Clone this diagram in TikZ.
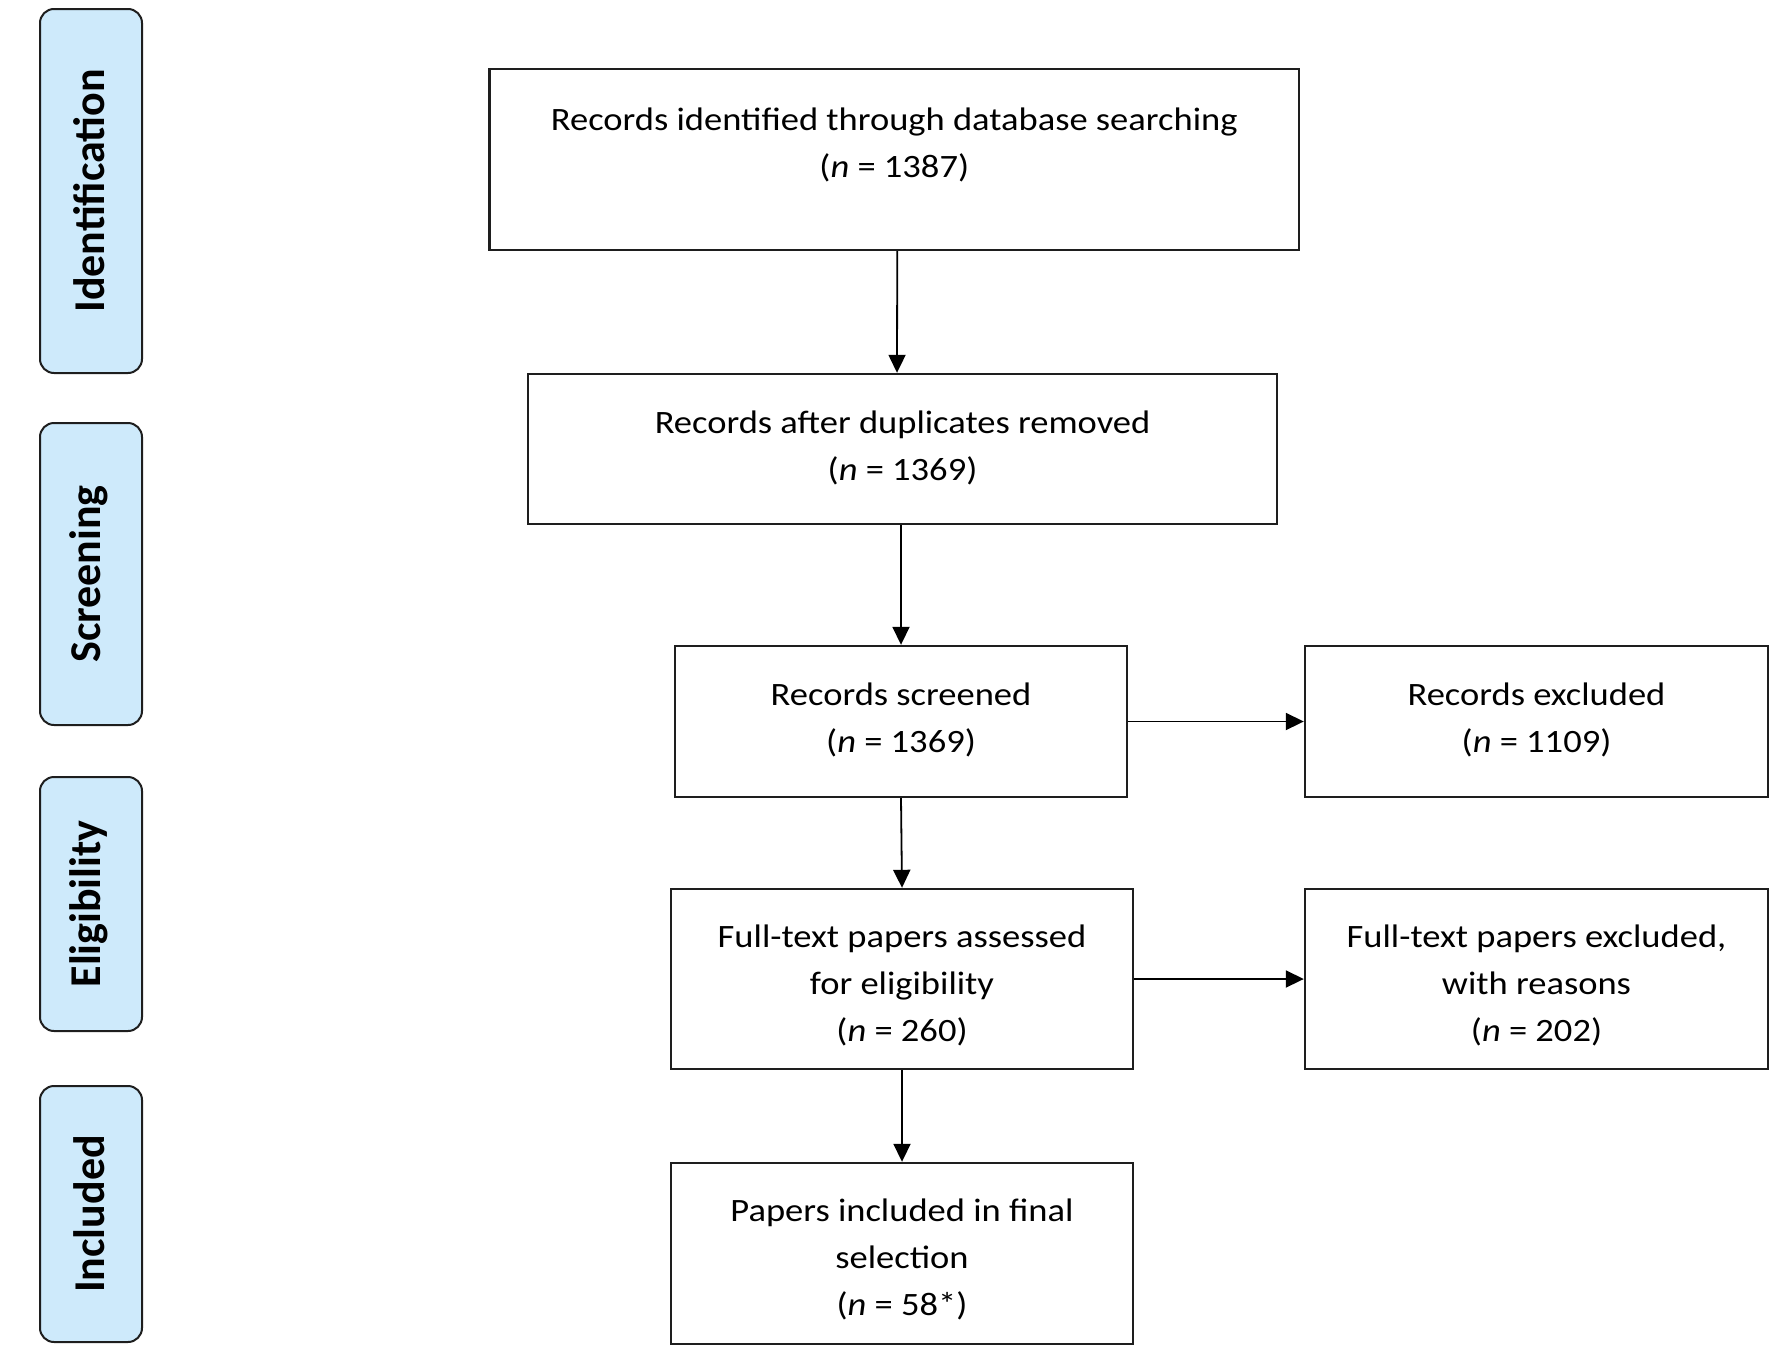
\documentclass[tikz,border=0pt]{standalone}
\usepackage{fontspec}
\setmainfont{Carlito}
\newfontfamily\wideface{Carlito}[FakeStretch=1.12]
\usetikzlibrary{arrows.meta,calc}
\definecolor{phasefill}{RGB}{206,234,251}
\definecolor{edge}{RGB}{30,30,30}
\tikzset{
  flowbox/.style={draw=edge, line width=1.2pt, rectangle, inner sep=0pt},
  flowtext/.style={align=center, font=\wideface\fontsize{16.3}{23.5}\selectfont, inner sep=0pt},
  phase/.style={draw=edge, line width=1pt, fill=phasefill, rounded corners=7pt, inner sep=0pt,
    minimum width=51pt},
  phasetext/.style={rotate=90, font=\fontsize{22}{26}\selectfont\bfseries, inner sep=0pt},
  flow/.style={line width=0.9pt, draw=black, -{Triangle[length=9pt,width=8.5pt]}}
}
\begin{document}
\begin{tikzpicture}[x=0.5pt,y=-0.5pt]
\useasboundingbox (0,0) rectangle (1783,1355);

% phase labels
\node[phase, minimum height=182pt] (pid) at (91,191) {};
\node[phasetext] (tid) at ($(pid.center)+(-2,0)$) {Identification};
\node[phase, minimum height=151pt] (psc) at (91,574) {};
\node[phasetext] (tsc) at ($(psc.center)+(-2,0)$) {Screening};
\node[phase, minimum height=127pt] (pel) at (91,904) {};
\node[phasetext] (tel) at ($(pel.center)+(-2,0)$) {Eligibility};
\node[phase, minimum height=128pt] (pin) at (91,1214) {};
\node[phasetext] (tin) at ($(pin.center)+(-2,0)$) {Included};

% boxes
\node[flowbox, minimum width=404.75pt, minimum height=90.5pt] (b1) at (894.25,159.5) {};
\node[flowtext] (t1) at ($(b1.center)+(0,-15)$) {Records identified through database searching\\(\textit{n} = 1387)};

\node[flowbox, minimum width=374.5pt, minimum height=75pt] (b2) at (902.5,449) {};
\node[flowtext] (t2) at ($(b2.center)+(0,-1)$) {Records after duplicates removed\\(\textit{n} = 1369)};

\node[flowbox, minimum width=226pt, minimum height=75.5pt] (b3) at (901,721.5) {};
\node[flowtext] (t3) at ($(b3.center)+(0,-2)$) {Records screened\\(\textit{n} = 1369)};

\node[flowbox, minimum width=231.5pt, minimum height=75.5pt] (b4) at (1536.5,721.5) {};
\node[flowtext] (t4) at ($(b4.center)+(0,-2)$) {Records excluded\\(\textit{n} = 1109)};

\node[flowbox, minimum width=231pt, minimum height=90pt] (b5) at (902,979) {};
\node[flowtext] (t5) at ($(b5.center)+(0,6)$) {Full-text papers assessed\\for eligibility\\(\textit{n} = 260)};

\node[flowbox, minimum width=231.5pt, minimum height=90pt] (b6) at (1536.5,979) {};
\node[flowtext] (t6) at ($(b6.center)+(0,6)$) {Full-text papers excluded,\\with reasons\\(\textit{n} = 202)};

\node[flowbox, minimum width=231pt, minimum height=90.5pt] (b7) at (902,1253.5) {};
\node[flowtext] (t7) at ($(b7.center)+(0,6)$) {Papers included in final\\selection\\(\textit{n} = 58*)};

% connectors
\draw[flow] ($(b1.south)+(3,0)$) -- ($(b2.north)+(-5.5,0)$);
\draw[flow] (b2.south -| b3.north) -- (b3.north);
\draw[flow] (b3.south) -- (b5.north);
\draw[flow] (b5.south) -- (b7.north);
\draw[flow] (b3.east) -- (b4.west);
\draw[flow] (b5.east) -- (b6.west);
\end{tikzpicture}
\end{document}
